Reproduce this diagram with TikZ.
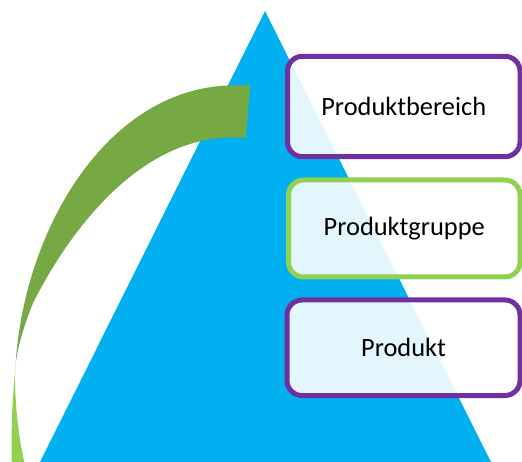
\documentclass[tikz,border=0pt]{standalone}
\usepackage{fontspec}
\setmainfont{Carlito}
\definecolor{skyb}{HTML}{00B0F0}
\definecolor{purp}{HTML}{7030A0}
\definecolor{lgreen}{HTML}{92D050}
\definecolor{dgreen}{HTML}{76A843}
\tikzset{
  levelbox/.style={draw,line width=5pt,rounded corners=15pt,fill=white,fill opacity=0.89,text opacity=1,text=black,font=\fontsize{26.4pt}{30pt}\selectfont,anchor=center,inner sep=0pt},
}
\begin{document}
\begin{tikzpicture}[x=1pt,y=-1pt]
\useasboundingbox (0,0) rectangle (522,462);
\clip (0,0) rectangle (522,462);
\fill[skyb] (265,11) -- (491,462) -- (40,462) -- cycle;
% curved arrow: lower light part
\fill[lgreen] (15.3,370) .. controls (12.5,395) and (11,430) .. (11.7,462) -- (24.3,462) .. controls (17,430) and (14.5,395) .. (15.3,370) -- cycle;
% upper dark part
\fill[dgreen] (250.3,85.3) -- (235,85.3) .. controls (108,85.3) and (22,230) .. (15.3,370) .. controls (16,350) and (25,323) .. (33,303) .. controls (75,220) and (145,137.5) .. (232,137.5) -- (245.7,137.7) -- cycle;
\node[levelbox,draw=purp,minimum width=232.5pt,minimum height=100.4pt] (bereich) at (403.75,106.5) {Produktbereich};
\node[levelbox,draw=lgreen,minimum width=231.5pt,minimum height=97pt] (gruppe) at (404.25,228.5) {Produktgruppe};
\node[levelbox,draw=purp,minimum width=233pt,minimum height=95.5pt] (produkt) at (403.5,347.75) {Produkt};
\end{tikzpicture}
\end{document}
